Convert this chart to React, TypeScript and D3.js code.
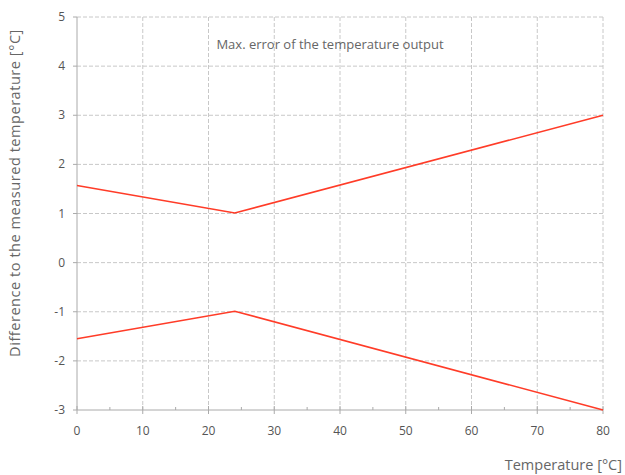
import React from 'react';
import * as d3 from 'd3';

const xTicks = [0, 10, 20, 30, 40, 50, 60, 70, 80];
const yTicks = [-3, -2, -1, 0, 1, 2, 3, 4, 5];
const upperTemp = [0, 24, 80];
const upperError = [1.57, 1.01, 3.0];
const lowerTemp = [0, 24, 80];
const lowerError = [-1.55, -0.99, -3.0];

const W = 625;
const H = 475;
const margin = { top: 17, right: 22, bottom: 65, left: 77 };

const App = () => {
  const x = d3.scaleLinear().domain([0, 80]).range([margin.left, W - margin.right]);
  const y = d3.scaleLinear().domain([-3, 5]).range([H - margin.bottom, margin.top]);
  const line = d3.line<[number, number]>().x(d => x(d[0])).y(d => y(d[1]));

  const upper = upperTemp.map((t, i) => [t, upperError[i]] as [number, number]);
  const lower = lowerTemp.map((t, i) => [t, lowerError[i]] as [number, number]);
  const minorTicks = d3.range(5, 80, 10);
  const font = "'Open Sans', 'Noto Sans', sans-serif";

  return (
    <svg width={W} height={H} style={{ position: 'absolute', left: 0, top: 0, background: 'white' }}
      fontFamily={font}>
      {/* grid */}
      {xTicks.slice(1).map(t => (
        <line key={'gx' + t} x1={x(t)} x2={x(t)} y1={y(5)} y2={y(-3)}
          stroke="#c8c8c8" strokeDasharray="4,2" />
      ))}
      {yTicks.slice(1).map(t => (
        <line key={'gy' + t} x1={x(0)} x2={x(80)} y1={y(t)} y2={y(t)}
          stroke="#c8c8c8" strokeDasharray="4,2" />
      ))}
      {/* axes */}
      <line x1={x(0)} x2={x(0)} y1={y(5)} y2={y(-3)} stroke="#aaa" />
      <line x1={x(0)} x2={x(80)} y1={y(-3)} y2={y(-3)} stroke="#aaa" />
      {xTicks.map(t => (
        <line key={'tx' + t} x1={x(t)} x2={x(t)} y1={y(-3) - 4} y2={y(-3) + 4} stroke="#aaa" />
      ))}
      {minorTicks.map(t => (
        <line key={'mx' + t} x1={x(t)} x2={x(t)} y1={y(-3) - 3} y2={y(-3)} stroke="#aaa" />
      ))}
      {yTicks.map(t => (
        <line key={'ty' + t} x1={x(0) - 4} x2={x(0)} y1={y(t)} y2={y(t)} stroke="#aaa" />
      ))}
      {/* tick labels */}
      {xTicks.map(t => (
        <text key={'lx' + t} x={x(t)} y={y(-3) + 25} textAnchor="middle" fontSize={12} fill="#555">{t}</text>
      ))}
      {yTicks.map(t => (
        <text key={'ly' + t} x={x(0) - 12} y={y(t) + 4} textAnchor="end" fontSize={12} fill="#555">{t}</text>
      ))}
      {/* data */}
      <path d={line(upper) || ''} fill="none" stroke="#ff3c28" strokeWidth={1.6} />
      <path d={line(lower) || ''} fill="none" stroke="#ff3c28" strokeWidth={1.6} />
      {/* labels */}
      <text x={330} y={49} textAnchor="middle" fontSize={13} fill="#666">
        Max. error of the temperature output
      </text>
      <text transform="translate(20,193) rotate(-90)" textAnchor="middle"
        fontSize={14.5} fill="#666" letterSpacing={0.55}>
        Difference to the measured temperature [°C]
      </text>
      <text x={622} y={470} textAnchor="end" fontSize={14.5} fill="#666">Temperature [°C]</text>
    </svg>
  );
};

export default App;
